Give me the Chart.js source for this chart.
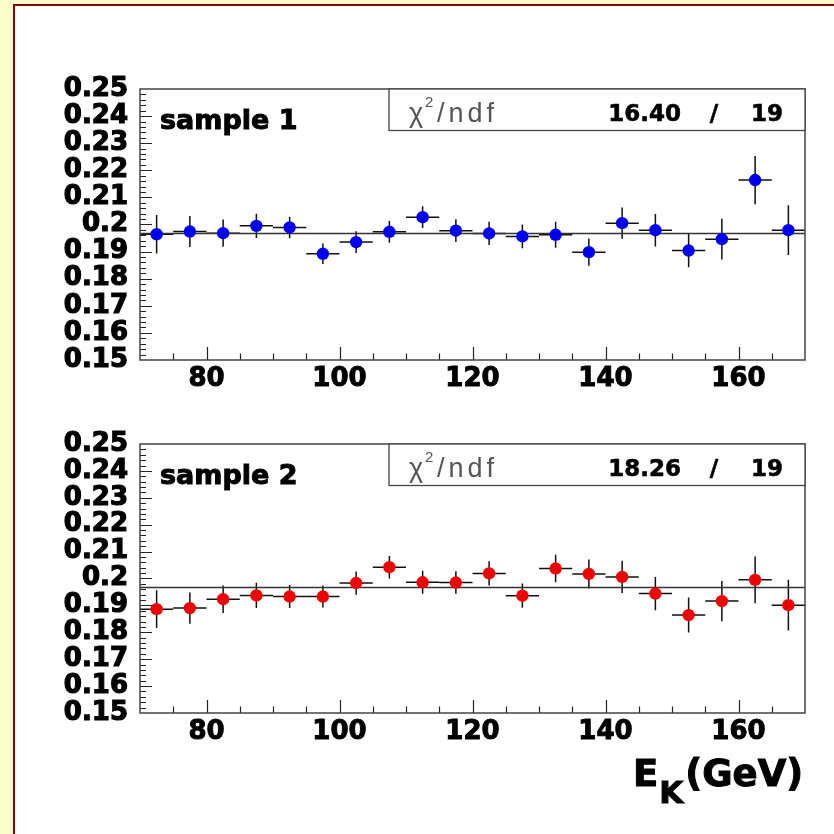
<!DOCTYPE html>
<html>
<head>
<meta charset="utf-8">
<script src="https://cdn.jsdelivr.net/npm/chart.js@4.4.0/dist/chart.umd.min.js"></script>
<style>
html, body { margin: 0; padding: 0; }
body { width: 834px; height: 834px; background: #ffffcc; overflow: hidden; position: relative; }
#panel { position: absolute; left: 13px; top: 4px; width: 900px; height: 900px; background: #fff;
         border-left: 2px solid #8b0000; border-top: 2px solid #8b0000; }
canvas { position: absolute; left: 0; }
#c1 { top: 0; }
#c2 { top: 400px; }
</style>
</head>
<body>
<div id="panel"></div>
<canvas id="c1" width="834" height="400"></canvas>
<canvas id="c2" width="834" height="434"></canvas>
<script>
// bin centres (GeV), each bin is 5 GeV wide
var binCenters = [72.5, 77.5, 82.5, 87.5, 92.5, 97.5, 102.5, 107.5, 112.5, 117.5,
                  122.5, 127.5, 132.5, 137.5, 142.5, 147.5, 152.5, 157.5, 162.5, 167.5];
var binHalfWidth = 2.5;

var sample1Values = [0.1964, 0.1974, 0.1968, 0.1995, 0.1989, 0.1892, 0.1935, 0.1973, 0.2027, 0.1977,
                     0.1967, 0.1956, 0.1962, 0.1898, 0.2005, 0.1979, 0.1904, 0.1946, 0.2164, 0.1979];
var sample1Errors = [0.0071, 0.0057, 0.0050, 0.0045, 0.0040, 0.0038, 0.0040, 0.0040, 0.0040, 0.0042,
                     0.0043, 0.0044, 0.0048, 0.0050, 0.0058, 0.0060, 0.0062, 0.0075, 0.0089, 0.0092];

var sample2Values = [0.1886, 0.1890, 0.1923, 0.1937, 0.1933, 0.1933, 0.1983, 0.2042, 0.1986, 0.1985,
                     0.2019, 0.1936, 0.2037, 0.2017, 0.2006, 0.1944, 0.1864, 0.1916, 0.1995, 0.1901];
var sample2Errors = [0.0070, 0.0058, 0.0051, 0.0047, 0.0043, 0.0041, 0.0043, 0.0042, 0.0043, 0.0042,
                     0.0045, 0.0045, 0.0051, 0.0054, 0.0060, 0.0062, 0.0065, 0.0075, 0.0087, 0.0094];

var fitValues = [0.1967, 0.1967];
var chi2Values = ['16.40', '18.26'];
var ndfValue = '19';
var sampleNames = ['sample 1', 'sample 2'];

var xMin = 70, xMax = 170;
var xTickValues = [80, 100, 120, 140, 160];
var yMin = 0.15, yMax = 0.25;
var yTickValues = [0.15, 0.16, 0.17, 0.18, 0.19, 0.2, 0.21, 0.22, 0.23, 0.24, 0.25];

var tickFont = '"DejaVu Sans", "Liberation Sans", sans-serif';
var thinFont = '"DejaVu Sans ExtraLight", "Liberation Sans", sans-serif';

// bold text with a thin outline so it looks as heavy as the original
function heavyText(ctx, txt, x, y, w) {
    ctx.fillText(txt, x, y);
    ctx.lineWidth = w;
    ctx.strokeStyle = ctx.fillStyle;
    ctx.strokeText(txt, x, y);
}

function panelPlugin(cfg) {
    return {
        id: 'panel' + cfg.idx,
        beforeDatasetsDraw: function(chart) {
            var ctx = chart.ctx, xs = chart.scales.x, ys = chart.scales.y;
            ctx.save();
            ctx.strokeStyle = '#111';
            ctx.lineWidth = 1.5;
            for (var i = 0; i < cfg.values.length; i++) {
                var xc = binCenters[i], v = cfg.values[i], e = cfg.errors[i];
                ctx.beginPath();
                ctx.moveTo(xs.getPixelForValue(xc - binHalfWidth), ys.getPixelForValue(v));
                ctx.lineTo(xs.getPixelForValue(xc + binHalfWidth), ys.getPixelForValue(v));
                ctx.moveTo(xs.getPixelForValue(xc), ys.getPixelForValue(v - e));
                ctx.lineTo(xs.getPixelForValue(xc), ys.getPixelForValue(v + e));
                ctx.stroke();
            }
            ctx.restore();
        },
        afterDraw: function(chart) {
            var ctx = chart.ctx, a = chart.chartArea, xs = chart.scales.x, ys = chart.scales.y;
            ctx.save();
            // ticks inside the frame
            ctx.strokeStyle = '#222';
            ctx.lineWidth = 1.2;
            ctx.beginPath();
            for (var k = 1; k < 50; k++) {
                var yv = yMin + k * 0.002;
                var py = Math.round(ys.getPixelForValue(yv)) + 0.5;
                var len = (k % 5 === 0) ? 12 : 6;
                ctx.moveTo(a.left, py);
                ctx.lineTo(a.left + len, py);
            }
            for (var xv = xMin + 5; xv < xMax; xv += 5) {
                var px = Math.round(xs.getPixelForValue(xv)) + 0.5;
                var xl = (xv % 20 === 0) ? 13 : 6.5;
                ctx.moveTo(px, a.bottom);
                ctx.lineTo(px, a.bottom - xl);
            }
            ctx.stroke();

            // frame
            ctx.strokeStyle = '#444';
            ctx.lineWidth = 1.5;
            ctx.strokeRect(a.left, a.top, a.right - a.left, a.bottom - a.top);

            // chi2 box
            var bx = 389, bh = 41.5;
            ctx.fillStyle = '#fff';
            ctx.fillRect(bx, a.top, a.right - bx, bh);
            ctx.lineWidth = 1.3;
            ctx.strokeRect(bx, a.top, a.right - bx, bh);

            ctx.textBaseline = 'alphabetic';
            ctx.fillStyle = '#555';
            ctx.textAlign = 'left';
            ctx.font = '27px ' + thinFont;
            ctx.fillText('\u03c7', 409, a.top + 33);
            ctx.font = '15px ' + thinFont;
            ctx.fillText('2', 425, a.top + 18);
            ctx.font = '27px ' + thinFont;
            ctx.letterSpacing = '4px';
            ctx.fillText('/ndf', 437, a.top + 33);
            ctx.letterSpacing = '0px';

            ctx.fillStyle = '#000';
            ctx.font = 'bold 23px ' + tickFont;
            ctx.textAlign = 'right';
            heavyText(ctx, cfg.chi2, 681, a.top + 32, 0.6);
            ctx.textAlign = 'center';
            heavyText(ctx, '/', 714, a.top + 32, 0.6);
            ctx.textAlign = 'right';
            heavyText(ctx, ndfValue, 783, a.top + 32, 0.6);

            // sample label
            ctx.textAlign = 'left';
            ctx.font = 'bold 27px ' + tickFont;
            heavyText(ctx, cfg.name, 160, a.top + 39.5, 1);

            // axis title on lower panel
            if (cfg.axisTitle) {
                var ty = a.bottom + 73;
                ctx.font = 'bold 37px ' + tickFont;
                heavyText(ctx, 'E', 633, ty, 1);
                var ew = ctx.measureText('E').width;
                ctx.font = 'bold 31px ' + tickFont;
                heavyText(ctx, 'K', 633 + ew + 1, ty + 17, 1);
                var kw = ctx.measureText('K').width;
                ctx.font = 'bold 37px ' + tickFont;
                heavyText(ctx, '(GeV)', 633 + ew + kw + 3, ty, 1);
            }
            ctx.restore();
        }
    };
}

function makeChart(canvasId, idx, values, errors, color, padding, axisTitle) {
    var points = [];
    for (var i = 0; i < binCenters.length; i++) {
        points.push({ x: binCenters[i], y: values[i] });
    }
    var fitLine = [{ x: xMin, y: fitValues[idx] }, { x: xMax, y: fitValues[idx] }];
    var ctx = document.getElementById(canvasId).getContext('2d');
    return new Chart(ctx, {
        type: 'scatter',
        data: {
            datasets: [
                {
                    label: sampleNames[idx],
                    data: points,
                    pointRadius: 6.2,
                    pointHoverRadius: 6.2,
                    pointBackgroundColor: color,
                    pointBorderWidth: 0,
                    order: 0
                },
                {
                    type: 'line',
                    label: 'fit',
                    data: fitLine,
                    borderColor: '#333',
                    borderWidth: 1.5,
                    pointRadius: 0,
                    order: 1
                }
            ]
        },
        options: {
            responsive: false,
            animation: false,
            events: [],
            layout: { padding: padding },
            plugins: { legend: { display: false }, tooltip: { enabled: false } },
            scales: {
                x: {
                    type: 'linear',
                    min: xMin,
                    max: xMax,
                    grid: { display: false, drawTicks: false },
                    border: { display: false },
                    afterBuildTicks: function(scale) {
                        scale.ticks = xTickValues.map(function(v) { return { value: v }; });
                    },
                    afterFit: function(scale) { scale.height = 40; },
                    ticks: {
                        autoSkip: false,
                        maxRotation: 0,
                        padding: 4,
                        color: '#000',
                        textStrokeColor: '#000',
                        textStrokeWidth: 1,
                        font: { family: tickFont, size: 26, weight: 'bold' }
                    }
                },
                y: {
                    type: 'linear',
                    min: yMin,
                    max: yMax,
                    grid: { display: false, drawTicks: false },
                    border: { display: false },
                    afterBuildTicks: function(scale) {
                        scale.ticks = yTickValues.map(function(v) { return { value: v }; });
                    },
                    afterFit: function(scale) { scale.width = 140; },
                    ticks: {
                        autoSkip: false,
                        padding: 12,
                        color: '#000',
                        textStrokeColor: '#000',
                        textStrokeWidth: 1.2,
                        font: { family: tickFont, size: 26, weight: 'bold' },
                        callback: function(v) { return String(parseFloat(v.toFixed(2))); }
                    }
                }
            }
        },
        plugins: [panelPlugin({
            idx: idx, values: values, errors: errors,
            chi2: chi2Values[idx], name: sampleNames[idx], axisTitle: axisTitle
        })]
    });
}

makeChart('c1', 0, sample1Values, sample1Errors, '#0000ee', { top: 89, right: 29, left: 0, bottom: 0 }, false);
makeChart('c2', 1, sample2Values, sample2Errors, '#ee0000', { top: 44, right: 29, left: 0, bottom: 81 }, true);
</script>
</body>
</html>
